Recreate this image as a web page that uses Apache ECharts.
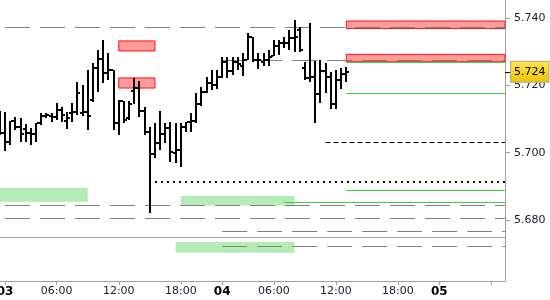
<!DOCTYPE html>
<html><head><meta charset="utf-8">
<script src="https://cdn.jsdelivr.net/npm/echarts@6/dist/echarts.min.js"></script>
<style>html,body{margin:0;padding:0;background:#fff}#c{width:550px;height:300px}</style>
</head><body><div id="c"></div>
<script>
// ---- data (bar slots: 30-minute bars, slot 0 = first bar of day 03) ----
const firstSlot = -1;
const opens  = [5.7097,5.7058,5.7032,5.7094,5.7076,5.7070,5.7058,5.7055,5.7088,5.7109,5.7109,5.7106,5.7127,5.7094,5.7118,5.7121,5.7118,5.7121,5.7156,5.7252,5.7278,5.7237,5.7246,5.7088,5.7153,5.7103,5.7183,5.7192,5.7124,5.7061,5.6996,5.7029,5.7055,5.7073,5.6999,5.7008,5.7076,5.7091,5.7094,5.7145,5.7180,5.7207,5.7201,5.7225,5.7269,5.7243,5.7269,5.7257,5.7275,5.7344,5.7275,5.7269,5.7275,5.7287,5.7317,5.7326,5.7326,5.7341,5.7364,5.7252,5.7222,5.7225,5.7174,5.7243,5.7225,5.7145,5.7216,5.7234];
const highs  = [5.7124,5.7121,5.7094,5.7106,5.7103,5.7085,5.7073,5.7088,5.7118,5.7118,5.7118,5.7148,5.7136,5.7121,5.7148,5.7210,5.7201,5.7246,5.7266,5.7305,5.7335,5.7296,5.7246,5.7156,5.7153,5.7153,5.7222,5.7213,5.7136,5.7076,5.7088,5.7124,5.7088,5.7091,5.7088,5.7088,5.7091,5.7118,5.7177,5.7195,5.7225,5.7246,5.7246,5.7284,5.7284,5.7284,5.7284,5.7296,5.7355,5.7344,5.7296,5.7296,5.7305,5.7335,5.7335,5.7344,5.7364,5.7394,5.7373,5.7269,5.7385,5.7272,5.7275,5.7266,5.7240,5.7246,5.7252,5.7254];
const lows   = [5.7053,5.7005,5.7023,5.7067,5.7032,5.7032,5.7023,5.7032,5.7082,5.7103,5.7091,5.7097,5.7091,5.7070,5.7091,5.7112,5.7109,5.7067,5.7151,5.7180,5.7207,5.7216,5.7067,5.7053,5.7088,5.7097,5.7145,5.7106,5.7053,5.6821,5.6984,5.7008,5.7029,5.6972,5.6969,5.6957,5.7061,5.7061,5.7088,5.7139,5.7177,5.7186,5.7189,5.7222,5.7222,5.7231,5.7246,5.7228,5.7275,5.7269,5.7249,5.7257,5.7257,5.7287,5.7290,5.7311,5.7305,5.7299,5.7299,5.7216,5.7210,5.7088,5.7148,5.7177,5.7130,5.7130,5.7189,5.7210];
const closes = [5.7058,5.7032,5.7094,5.7076,5.7055,5.7058,5.7055,5.7088,5.7109,5.7112,5.7106,5.7127,5.7112,5.7103,5.7121,5.7177,5.7121,5.7109,5.7252,5.7278,5.7237,5.7246,5.7088,5.7153,5.7097,5.7145,5.7192,5.7124,5.7061,5.6996,5.7029,5.7055,5.7073,5.7002,5.7008,5.7076,5.7091,5.7094,5.7145,5.7180,5.7207,5.7201,5.7225,5.7269,5.7243,5.7269,5.7263,5.7275,5.7344,5.7275,5.7275,5.7275,5.7284,5.7317,5.7326,5.7326,5.7341,5.7344,5.7305,5.7222,5.7225,5.7174,5.7243,5.7225,5.7145,5.7216,5.7234,5.7240];

const tickSlots  = [0,10,22,34,42,52,64,76,84,94];
const tickLabels = ['03','06:00','12:00','18:00','04','06:00','12:00','18:00','05',''];
const dayLabels  = ['03','04','05'];
const priceTicks = [5.68,5.70,5.72,5.74];
const lastPrice  = 5.724;

// levels: [startSlot (null = left edge), price]
const grayDashed  = [[0,5.7373],[42,5.7275],[0,5.6843],[0,5.6805],[42,5.6767],[42,5.6722]];
const graySolid   = [[null,5.6750]];
const greenLines  = [[66,5.7268],[66,5.7177],[66,5.6889],[54,5.6853]];
const blackDashed = [[62,5.7031]];
const blackDotted = [[29,5.6914]];
// zones: [startSlot, endSlot (null = edge), low, high]
const redZones   = [[22,29,5.7302,5.7332],[22,29,5.7192,5.7222],[66,null,5.7369,5.7391],[66,null,5.7270,5.7292]];
const greenZones = [[null,16,5.6854,5.6895],[34,56,5.6843,5.6871],[33,56,5.6703,5.6735]];

// ---- chart ----
const xMin = -0.97, xMax = 96.7;
const yMin = 5.66188, yMax = 5.74535;
const FONT = 'DejaVu Sans';

const ohlc = opens.map((o,i)=>[firstSlot+i, o, highs[i], lows[i], closes[i]]);

function lineSeries(list, style){
  return {
    type:'line', data:[], z:1, silent:true, animation:false,
    markLine:{
      silent:true, animation:false, symbol:['none','none'], label:{show:false},
      lineStyle:style, emphasis:{disabled:true},
      data:list.map(l=>[{coord:[l[0]===null?xMin:l[0], l[1]]},{coord:[xMax, l[1]]}])
    }
  };
}
function zoneSeries(list, itemStyle){
  return {
    type:'line', data:[], z:0, silent:true, animation:false,
    markArea:{
      silent:true, animation:false, itemStyle:itemStyle, label:{show:false}, emphasis:{disabled:true},
      data:list.map(z=>[{coord:[z[0]===null?xMin:z[0], z[3]]},{coord:[z[1]===null?xMax:z[1], z[2]]}])
    }
  };
}

function renderBar(params, api){
  const x = api.value(0);
  const pO = api.coord([x, api.value(1)]);
  const pH = api.coord([x, api.value(2)]);
  const pL = api.coord([x, api.value(3)]);
  const pC = api.coord([x, api.value(4)]);
  const cx = Math.round(pH[0]);
  const top = Math.round(pH[1]), bot = Math.round(pL[1]);
  return {type:'group', children:[
    {type:'rect', shape:{x:cx-1, y:top, width:2, height:Math.max(1,bot-top)}, style:{fill:'#000'}},
    {type:'rect', shape:{x:cx-3, y:Math.round(pO[1])-1, width:2, height:2}, style:{fill:'#000'}},
    {type:'rect', shape:{x:cx+1, y:Math.round(pC[1])-1, width:2, height:2}, style:{fill:'#000'}}
  ]};
}

const chart = echarts.init(document.getElementById('c'), null, {renderer:'canvas'});
chart.setOption({
  animation:false,
  backgroundColor:'#fff',
  grid:{left:0, right:45, top:0, bottom:19, containLabel:false, outerBoundsMode:'none'},
  xAxis:{
    type:'value', min:xMin, max:xMax,
    axisLine:{show:true, onZero:false, lineStyle:{color:'#a0a0a0', width:1}},
    axisTick:{show:true, customValues:tickSlots, length:4, lineStyle:{color:'#a0a0a0'}},
    axisLabel:{
      customValues:tickSlots, margin:5, fontFamily:FONT, fontSize:11, color:'#1a1a2a',
      formatter:function(v){
        const i = tickSlots.indexOf(Math.round(v));
        const t = i>=0 ? tickLabels[i] : '';
        return dayLabels.indexOf(t)>=0 ? '{b|'+t+'}' : t;
      },
      rich:{b:{fontWeight:'bold', fontSize:12, fontFamily:FONT, color:'#000'}}
    },
    splitLine:{show:false}
  },
  yAxis:[{
    type:'value', position:'right', min:yMin, max:yMax,
    axisLine:{show:true, onZero:false, lineStyle:{color:'#a0a0a0'}},
    axisTick:{show:true, customValues:priceTicks, length:5, lineStyle:{color:'#a0a0a0'}},
    axisLabel:{customValues:priceTicks, margin:9, fontFamily:FONT, fontSize:11, color:'#1a1a2a',
      formatter:v=>v.toFixed(3)},
    splitLine:{show:false}
  },{
    type:'value', position:'right', min:yMin, max:yMax,
    axisLine:{show:false, onZero:false},
    axisTick:{show:true, customValues:[lastPrice], length:5, lineStyle:{color:'#000'}},
    axisLabel:{customValues:[lastPrice], margin:6, fontFamily:FONT, fontSize:11, color:'#000',
      formatter:v=>v.toFixed(3), lineHeight:14, padding:[3,3,3,3],
      backgroundColor:{type:'linear',x:0,y:0,x2:0,y2:1,colorStops:[{offset:0,color:'#ffe44d'},{offset:1,color:'#f2c200'}]},
      borderColor:'#a8a8a8', borderWidth:1},
    splitLine:{show:false}
  }],
  series:[
    zoneSeries(greenZones, {color:'#b5ebb5', borderWidth:0}),
    zoneSeries(redZones, {color:'#ff9a9a', borderColor:'#ff1010', borderWidth:1}),
    lineSeries(graySolid, {color:'#a8a8a8', width:1, type:'solid'}),
    lineSeries(grayDashed, {color:'#808080', width:1, type:[25,10]}),
    lineSeries(greenLines, {color:'#44cc44', width:1, type:'solid'}),
    lineSeries(blackDashed, {color:'#000', width:1, type:[5,3]}),
    lineSeries(blackDotted, {color:'#000', width:2, type:[2,4]}),
    {type:'custom', z:5, renderItem:renderBar, data:ohlc, encode:{x:0, y:[1,2,3,4]}, animation:false, silent:true}
  ]
});
</script></body></html>
